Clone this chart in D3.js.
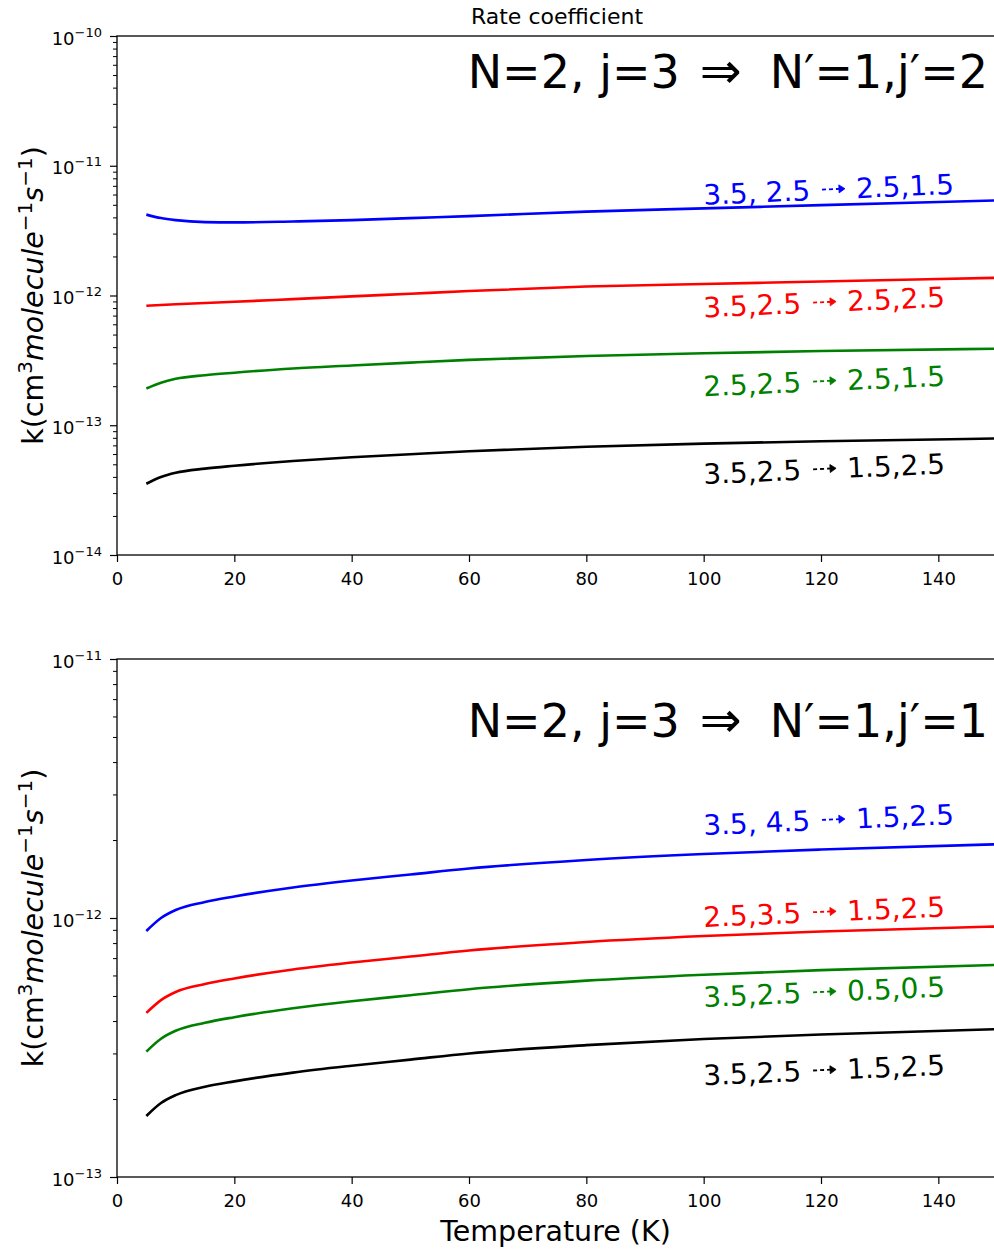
<!DOCTYPE html>
<html>
<head>
<meta charset="utf-8">
<script src="https://cdn.jsdelivr.net/npm/d3@7"></script>
<style>
  body { margin: 0; background: #fff; }
  text { font-family: "DejaVu Sans", sans-serif; }
</style>
</head>
<body>
<svg id="fig" width="994" height="1251"></svg>
<script>
// Temperatures (K) at which the rate coefficients are tabulated
const temperature = [5, 7.5, 10, 15, 20, 30, 40, 50, 60, 80, 100, 120, 150];

// Upper panel: N=2, j=3 -> N'=1, j'=2   (cm^3 molecule^-1 s^-1)
const upperBlue  = [4.20e-12, 3.95e-12, 3.81e-12, 3.68e-12, 3.66e-12, 3.72e-12, 3.81e-12, 3.95e-12, 4.09e-12, 4.43e-12, 4.69e-12, 4.97e-12, 5.41e-12];
const upperRed   = [8.33e-13, 8.45e-13, 8.56e-13, 8.76e-13, 8.94e-13, 9.38e-13, 9.84e-13, 1.032e-12, 1.083e-12, 1.173e-12, 1.226e-12, 1.282e-12, 1.369e-12];
const upperGreen = [1.92e-13, 2.13e-13, 2.28e-13, 2.43e-13, 2.54e-13, 2.74e-13, 2.89e-13, 3.04e-13, 3.19e-13, 3.42e-13, 3.59e-13, 3.73e-13, 3.89e-13];
const upperBlack = [3.54e-14, 3.99e-14, 4.30e-14, 4.63e-14, 4.87e-14, 5.30e-14, 5.66e-14, 5.98e-14, 6.31e-14, 6.83e-14, 7.22e-14, 7.53e-14, 7.90e-14];

// Lower panel: N=2, j=3 -> N'=1, j'=1
const lowerBlue  = [8.91e-13, 1.00e-12, 1.074e-12, 1.153e-12, 1.211e-12, 1.312e-12, 1.396e-12, 1.472e-12, 1.553e-12, 1.675e-12, 1.767e-12, 1.838e-12, 1.925e-12];
const lowerRed   = [4.30e-13, 4.82e-13, 5.18e-13, 5.56e-13, 5.84e-13, 6.33e-13, 6.73e-13, 7.10e-13, 7.49e-13, 8.08e-13, 8.52e-13, 8.87e-13, 9.27e-13];
const lowerGreen = [3.05e-13, 3.42e-13, 3.67e-13, 3.94e-13, 4.14e-13, 4.48e-13, 4.77e-13, 5.03e-13, 5.31e-13, 5.73e-13, 6.04e-13, 6.29e-13, 6.59e-13];
const lowerBlack = [1.72e-13, 1.93e-13, 2.07e-13, 2.23e-13, 2.34e-13, 2.53e-13, 2.69e-13, 2.84e-13, 3.00e-13, 3.23e-13, 3.41e-13, 3.55e-13, 3.72e-13];

// Curve labels: initial (j, F) -> final (j', F')
const upperFrom = ["3.5, 2.5", "3.5,2.5", "2.5,2.5", "3.5,2.5"];
const upperTo   = ["2.5,1.5", "2.5,2.5", "2.5,1.5", "1.5,2.5"];
const lowerFrom = ["3.5, 4.5", "2.5,3.5", "3.5,2.5", "3.5,2.5"];
const lowerTo   = ["1.5,2.5", "1.5,2.5", "0.5,0.5", "1.5,2.5"];

// Panel headings: initial level, final level
const upperHeading = ["N=2, j=3", "N\u2032=1,j\u2032=2"];
const lowerHeading = ["N=2, j=3", "N\u2032=1,j\u2032=1"];

// Axis ticks
const xTicks = [0, 20, 40, 60, 80, 100, 120, 140];
const upperDecades = [-14, -13, -12, -11, -10];
const lowerDecades = [-13, -12, -11];

const colors = ["#0000ff", "#ff0000", "#008000", "#000000"];

const svg = d3.select("#fig");
const left = 117, rightEdge = 997;
const x = d3.scaleLinear().domain([0, 150]).range([left, rightEdge]);

function drawPanel(opts) {
  const { top, bottom, decades, series, from, to, heading, headingY, labelAnchors, showXLabel } = opts;
  const y = d3.scaleLog()
    .domain([Math.pow(10, decades[0]), Math.pow(10, decades[decades.length - 1])])
    .range([bottom, top]);

  const g = svg.append("g");
  const clipId = "clip" + top;
  svg.append("clipPath").attr("id", clipId)
    .append("rect").attr("x", left).attr("y", top).attr("width", rightEdge - left).attr("height", bottom - top);

  // curves
  const line = d3.line()
    .x((d, i) => x(temperature[i]))
    .y(d => y(d))
    .curve(d3.curveMonotoneX);
  series.forEach((s, i) => {
    g.append("path")
      .attr("clip-path", `url(#${clipId})`)
      .attr("d", line(s))
      .attr("fill", "none")
      .attr("stroke", colors[i])
      .attr("stroke-width", 2.6)
      .attr("stroke-linejoin", "round");
  });

  // frame
  g.append("rect")
    .attr("x", left).attr("y", top)
    .attr("width", rightEdge - left).attr("height", bottom - top)
    .attr("fill", "none").attr("stroke", "#000").attr("stroke-width", 1.3);

  // x axis
  const xAxis = g.append("g").attr("transform", `translate(0,${bottom})`)
    .call(d3.axisBottom(x).tickValues(xTicks).tickSize(7).tickPadding(10).tickSizeOuter(0));
  xAxis.select(".domain").remove();
  xAxis.selectAll("line").attr("stroke-width", 1.2);
  xAxis.selectAll("text").attr("font-size", 18).attr("font-family", "DejaVu Sans").attr("fill", "#000");

  // y axis, minor ticks
  const minors = [];
  for (let e = decades[0]; e < decades[decades.length - 1]; e++) {
    for (let m = 2; m <= 9; m++) minors.push(m * Math.pow(10, e));
  }
  const yMinor = g.append("g").attr("transform", `translate(${left},0)`)
    .call(d3.axisLeft(y).tickValues(minors).tickSize(4).tickFormat(() => "").tickSizeOuter(0));
  yMinor.select(".domain").remove();
  yMinor.selectAll("line").attr("stroke-width", 1);

  // y axis, decades
  const yMajor = g.append("g").attr("transform", `translate(${left},0)`)
    .call(d3.axisLeft(y).tickValues(decades.map(e => Math.pow(10, e))).tickSize(7).tickPadding(8).tickSizeOuter(0));
  yMajor.select(".domain").remove();
  yMajor.selectAll("line").attr("stroke-width", 1.2);
  yMajor.selectAll(".tick text").each(function (d) {
    const t = d3.select(this);
    const e = Math.round(Math.log10(d));
    t.text(null).attr("font-size", 18).attr("fill", "#000").attr("dy", "0.45em");
    t.append("tspan").text("10");
    t.append("tspan").attr("font-size", 13).attr("dy", "-0.62em").text("\u2212" + Math.abs(e));
  });

  // y label
  const mid = (top + bottom) / 2;
  const yl = g.append("text")
    .attr("transform", `translate(43,${mid}) rotate(-90)`)
    .attr("text-anchor", "middle")
    .attr("font-size", 28.5);
  yl.append("tspan").text("k(cm");
  yl.append("tspan").attr("font-size", 20).attr("dy", -11).text("3");
  yl.append("tspan").attr("font-style", "italic").attr("dy", 11).text("molecule");
  yl.append("tspan").attr("font-size", 20).attr("dy", -11).text("\u22121");
  yl.append("tspan").attr("font-style", "italic").attr("dy", 11).text("s");
  yl.append("tspan").attr("font-size", 20).attr("dy", -11).text("\u22121");
  yl.append("tspan").attr("dy", 11).text(")");

  // heading
  const h = g.append("text")
    .attr("x", 988).attr("y", headingY)
    .attr("text-anchor", "end")
    .attr("font-size", 46);
  h.append("tspan").text(heading[0]);
  h.append("tspan").attr("dx", 20).attr("font-size", 50).text("\u21D2");
  h.append("tspan").attr("dx", 28).text(heading[1]);

  // curve labels with a dashed arrow between the two states
  labelAnchors.forEach((a, i) => {
    const lg = g.append("g")
      .attr("transform", `translate(${x(a[0])},${y(a[1])}) rotate(-2.5)`)
      .attr("fill", colors[i]);
    const t1 = lg.append("text").attr("font-size", 28).attr("fill", colors[i]).text(from[i]);
    const w1 = t1.node().getComputedTextLength();
    const ax0 = w1 + 12, ax1 = w1 + 35, ay = -10;
    lg.append("path")
      .attr("d", `M${ax0},${ay}H${ax1 - 3}`)
      .attr("stroke", colors[i]).attr("stroke-width", 1.8)
      .attr("stroke-dasharray", "4,3").attr("fill", "none");
    lg.append("path")
      .attr("d", `M${ax1 - 6},${ay - 4}L${ax1},${ay}L${ax1 - 6},${ay + 4}Z`)
      .attr("fill", colors[i]).attr("stroke", colors[i]).attr("stroke-width", 0.8);
    lg.append("text").attr("x", w1 + 46).attr("font-size", 28).attr("fill", colors[i]).text(to[i]);
  });

  if (showXLabel) {
    g.append("text")
      .attr("x", (left + 994) / 2).attr("y", 1241)
      .attr("text-anchor", "middle")
      .attr("font-size", 28.5)
      .text("Temperature (K)");
  }
}

// title
svg.append("text")
  .attr("x", 557).attr("y", 24)
  .attr("text-anchor", "middle")
  .attr("font-size", 22)
  .text("Rate coefficient");

drawPanel({
  top: 36, bottom: 555,
  decades: upperDecades,
  series: [upperBlue, upperRed, upperGreen, upperBlack],
  from: upperFrom, to: upperTo,
  heading: upperHeading, headingY: 88,
  labelAnchors: [[100, 5.0e-12], [100, 6.78e-13], [100, 1.67e-13], [100, 3.52e-14]],
  showXLabel: false
});

drawPanel({
  top: 659, bottom: 1177,
  decades: lowerDecades,
  series: [lowerBlue, lowerRed, lowerGreen, lowerBlack],
  from: lowerFrom, to: lowerTo,
  heading: lowerHeading, headingY: 737,
  labelAnchors: [[100, 2.09e-12], [100, 9.23e-13], [100, 4.53e-13], [100, 2.26e-13]],
  showXLabel: true
});
</script>
</body>
</html>
